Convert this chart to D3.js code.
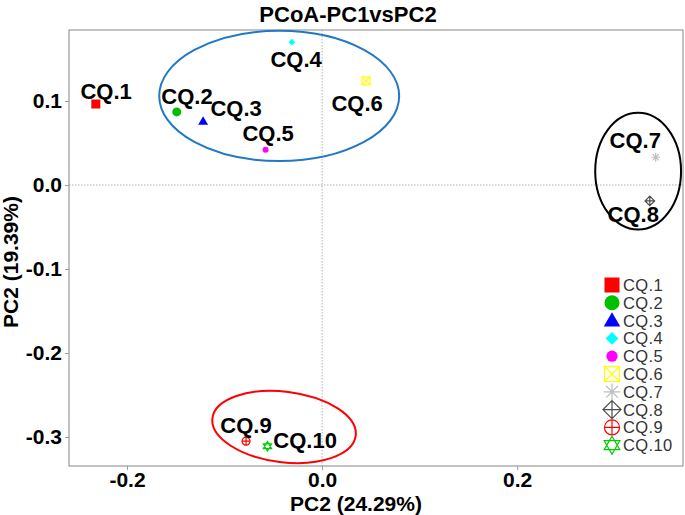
<!DOCTYPE html>
<html>
<head>
<meta charset="utf-8">
<script src="https://cdn.jsdelivr.net/npm/d3@7"></script>
<style>
  body { margin: 0; background: #fff; }
  text { font-family: "Liberation Sans", Arial, sans-serif; }
</style>
</head>
<body>
<div id="chart"></div>
<script>
// sample names and PCoA coordinates
var samples = ["CQ.1", "CQ.2", "CQ.3", "CQ.4", "CQ.5", "CQ.6", "CQ.7", "CQ.8", "CQ.9", "CQ.10"];
var pc1 = [-0.232, -0.149, -0.122, -0.031, -0.058, 0.045, 0.342, 0.336, -0.078, -0.056];
var pc2 = [0.0964, 0.087, 0.076, 0.170, 0.042, 0.124, 0.033, -0.019, -0.305, -0.311];

// where the repelled labels sit (data units)
var labelX = [-0.2215, -0.1385, -0.0882, -0.0267, -0.0554, 0.0359, 0.3210, 0.3190, -0.0780, -0.0174];
var labelY = [0.1119, 0.1060, 0.0917, 0.1500, 0.0619, 0.0976, 0.0536, -0.0345, -0.2857, -0.3036];

// marker shape and colour per sample
var shapes = ["square", "circle", "triangle", "diamond", "smallcircle", "boxx", "star", "diamondplus", "circleplus", "david"];
var colors = ["#ff0000", "#00c000", "#0000ff", "#00ffff", "#ff00ff", "#ffff00", "#bebebe", "#4d4d4d", "#ff0000", "#00cd00"];

// group ellipses (centre x, centre y, radius x, radius y in data units, tilt in degrees)
var ellipseCx = [-0.044, 0.324, -0.039];
var ellipseCy = [0.106, 0.0165, -0.288];
var ellipseRx = [0.123, 0.044, 0.074];
var ellipseRy = [0.0775, 0.0695, 0.042];
var ellipseAngle = [0, 0, 7];
var ellipseColor = ["#1f78c8", "#000000", "#ff0000"];

var xTicks = [-0.2, 0.0, 0.2];
var yTicks = [0.1, 0.0, -0.1, -0.2, -0.3];

var width = 685, height = 515;
var pLeft = 69, pRight = 683, pTop = 30, pBottom = 466;

var svg = d3.select("#chart").append("svg")
  .attr("width", width)
  .attr("height", height);

var x = d3.scaleLinear().domain([-0.2595, 0.370]).range([pLeft, pRight]);
var y = d3.scaleLinear().domain([-0.3345, 0.1845]).range([pBottom, pTop]);

//panel border
svg.append("rect")
  .attr("x", pLeft).attr("y", pTop)
  .attr("width", pRight - pLeft).attr("height", pBottom - pTop)
  .attr("fill", "none")
  .attr("stroke", "#9a9a9a")
  .attr("stroke-width", 1.2);

//zero reference lines
svg.append("line")
  .attr("x1", x(0)).attr("x2", x(0))
  .attr("y1", pTop).attr("y2", pBottom)
  .attr("stroke", "#a0a0a0").attr("stroke-width", 0.8)
  .attr("stroke-dasharray", "1.5,1.5");
svg.append("line")
  .attr("x1", pLeft).attr("x2", pRight)
  .attr("y1", y(0)).attr("y2", y(0))
  .attr("stroke", "#a0a0a0").attr("stroke-width", 0.8)
  .attr("stroke-dasharray", "1.5,1.5");

//axes
var xAxis = svg.append("g")
  .attr("transform", "translate(0," + pBottom + ")")
  .call(d3.axisBottom(x).tickValues(xTicks).tickSize(4).tickPadding(2));
var yAxis = svg.append("g")
  .attr("transform", "translate(" + pLeft + ",0)")
  .call(d3.axisLeft(y).tickValues(yTicks).tickSize(4).tickPadding(3));
[xAxis, yAxis].forEach(function(a) {
  a.select(".domain").remove();
  a.selectAll(".tick line").attr("stroke", "#9a9a9a");
  a.selectAll(".tick text")
    .attr("fill", "#000")
    .style("font-size", "21px")
    .style("font-weight", "bold")
    .text(function(d) { return d3.format(".1f")(d).replace("−", "-"); });
});

//title and axis titles
svg.append("text")
  .attr("x", 348).attr("y", 22)
  .attr("text-anchor", "middle")
  .style("font-size", "22px").style("font-weight", "bold")
  .text("PCoA-PC1vsPC2");
svg.append("text")
  .attr("x", 356).attr("y", 511)
  .attr("text-anchor", "middle")
  .style("font-size", "21px").style("font-weight", "bold")
  .text("PC2 (24.29%)");
svg.append("text")
  .attr("transform", "translate(18,262) rotate(-90)")
  .attr("text-anchor", "middle")
  .style("font-size", "21px").style("font-weight", "bold")
  .text("PC2 (19.39%)");

//ellipses
svg.selectAll(".ell")
  .data(ellipseCx)
  .enter().append("ellipse")
  .attr("transform", function(d, i) {
    return "translate(" + x(d) + "," + y(ellipseCy[i]) + ") rotate(" + ellipseAngle[i] + ")";
  })
  .attr("rx", function(d, i) { return x(ellipseRx[i]) - x(0); })
  .attr("ry", function(d, i) { return y(0) - y(ellipseRy[i]); })
  .attr("fill", "none")
  .attr("stroke", function(d, i) { return ellipseColor[i]; })
  .attr("stroke-width", 2);

//draws one marker shape centred at 0,0
function drawShape(g, shape, color, s) {
  var h = s / 2;
  if (shape == "square") {
    g.append("rect").attr("x", -h).attr("y", -h).attr("width", s).attr("height", s).attr("fill", color);
  } else if (shape == "circle") {
    g.append("circle").attr("r", h).attr("fill", color);
  } else if (shape == "smallcircle") {
    g.append("circle").attr("r", h * 0.75).attr("fill", color);
  } else if (shape == "triangle") {
    g.append("path").attr("d", "M0," + (-h * 1.1) + "L" + (h * 1.1) + "," + (h * 0.8) + "L" + (-h * 1.1) + "," + (h * 0.8) + "Z").attr("fill", color);
  } else if (shape == "diamond") {
    g.append("path").attr("d", "M0," + (-h * 0.85) + "L" + (h * 0.85) + ",0L0," + (h * 0.85) + "L" + (-h * 0.85) + ",0Z").attr("fill", color);
  } else if (shape == "boxx") {
    g.append("rect").attr("x", -h).attr("y", -h).attr("width", s).attr("height", s).attr("fill", "none").attr("stroke", color).attr("stroke-width", 1.2);
    g.append("path").attr("d", "M" + (-h) + "," + (-h) + "L" + h + "," + h + "M" + h + "," + (-h) + "L" + (-h) + "," + h).attr("stroke", color).attr("stroke-width", 1.2);
  } else if (shape == "star") {
    var r = h * 1.1, p = "";
    for (var k = 0; k < 4; k++) {
      var a = k * Math.PI / 4;
      p += "M" + (-r * Math.cos(a)) + "," + (-r * Math.sin(a)) + "L" + (r * Math.cos(a)) + "," + (r * Math.sin(a));
    }
    g.append("path").attr("d", p).attr("stroke", color).attr("stroke-width", 1.2);
  } else if (shape == "diamondplus") {
    var r2 = h * 1.2;
    g.append("path").attr("d", "M0," + (-r2) + "L" + r2 + ",0L0," + r2 + "L" + (-r2) + ",0Z M0," + (-r2) + "L0," + r2 + "M" + (-r2) + ",0L" + r2 + ",0")
      .attr("fill", "none").attr("stroke", color).attr("stroke-width", 1.2);
  } else if (shape == "circleplus") {
    g.append("circle").attr("r", h).attr("fill", "none").attr("stroke", color).attr("stroke-width", 1.2);
    g.append("path").attr("d", "M0," + (-h) + "L0," + h + "M" + (-h) + ",0L" + h + ",0").attr("stroke", color).attr("stroke-width", 1.2);
  } else if (shape == "david") {
    var r3 = h * 1.2;
    var up = [0, 1, 2].map(function(k) { var a = -Math.PI / 2 + k * 2 * Math.PI / 3; return [r3 * Math.cos(a), r3 * Math.sin(a)]; });
    var dn = up.map(function(pt) { return [pt[0], -pt[1]]; });
    g.append("path").attr("d", "M" + up.join("L") + "Z M" + dn.join("L") + "Z").attr("fill", "none").attr("stroke", color).attr("stroke-width", 1.2);
  }
}

//points
samples.forEach(function(name, i) {
  var g = svg.append("g").attr("transform", "translate(" + x(pc1[i]) + "," + y(pc2[i]) + ")");
  var s = (i < 3) ? 9 : 8;
  drawShape(g, shapes[i], colors[i], s);
});

//point labels
svg.selectAll(".lab")
  .data(samples)
  .enter().append("text")
  .attr("x", function(d, i) { return x(labelX[i]); })
  .attr("y", function(d, i) { return y(labelY[i]); })
  .attr("dy", "0.36em")
  .attr("text-anchor", "middle")
  .style("font-size", "22px")
  .style("font-weight", "bold")
  .text(function(d) { return d; });

//legend
var legend = svg.append("g").attr("transform", "translate(612,285)");
samples.forEach(function(name, i) {
  var row = legend.append("g").attr("transform", "translate(0," + (i * 17.8) + ")");
  drawShape(row, shapes[i], colors[i], 15);
  row.append("text")
    .attr("x", 11).attr("y", 0).attr("dy", "0.36em")
    .attr("fill", "#333")
    .style("font-size", "16.5px")
    .style("letter-spacing", "0.4px")
    .text(name);
});
</script>
</body>
</html>
